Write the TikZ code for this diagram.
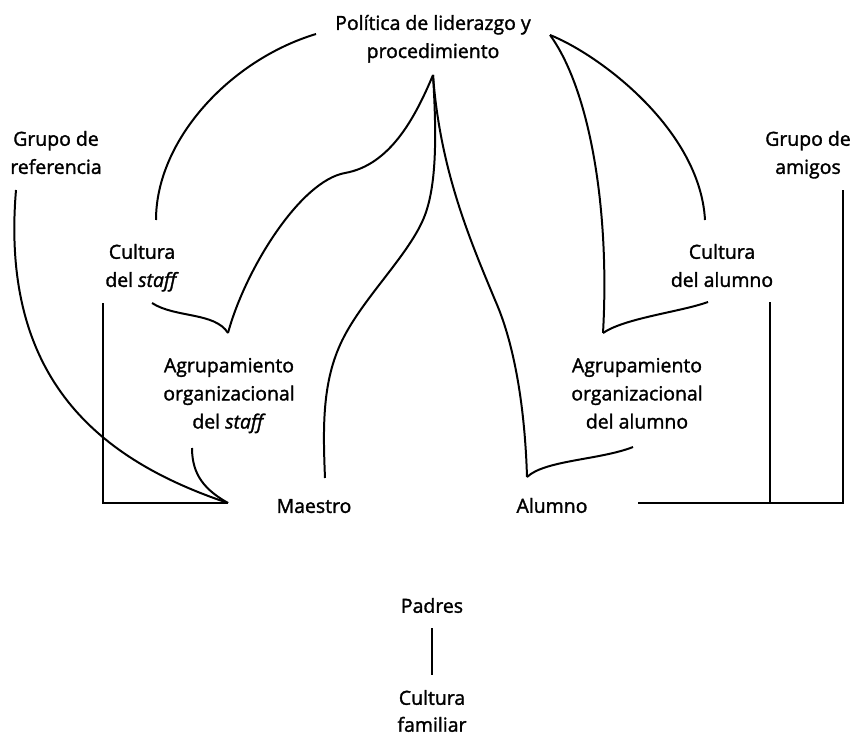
\documentclass[tikz,border=0pt]{standalone}
\usepackage{fontspec}
\setmainfont{Open Sans}[FakeBold=1.6]
\usetikzlibrary{positioning}

\begin{document}
\begin{tikzpicture}[x=0.03cm, y=-0.03cm, line width=1.7pt,
    lbl/.style={align=center, anchor=north, inner sep=0pt,
                font=\fontsize{16.6}{24}\selectfont}]

    \useasboundingbox (0,0) rectangle (852,739);

    % ================= Textos (Labels) =================
    \node[lbl] (pol)     at (433,14)  {Política de liderazgo y\\procedimiento};
    \node[lbl] (grRef)   at (56,130)  {Grupo de\\referencia};
    \node[lbl] (grAm)    at (808,130) {Grupo de\\amigos};
    \node[lbl] (cStaff)  at (142,243) {Cultura\\del \textit{staff}};
    \node[lbl] (cAlu)    at (722,243) {Cultura\\del alumno};
    \node[lbl] (agStaff) at (229,357) {Agrupamiento\\organizacional\\del \textit{staff}};
    \node[lbl] (agAlu)   at (637,357) {Agrupamiento\\organizacional\\del alumno};
    \node[lbl] (maestro) at (314,498) {Maestro};
    \node[lbl] (alumno)  at (552,497) {Alumno};
    \node[lbl] (padres)  at (432,597) {Padres};
    \node[lbl, font=\fontsize{16.6}{23}\selectfont] (familia) at (432,689) {Cultura\\familiar};

    % ================= Puntos de unión (Coordinates) =================
    \coordinate (tip)    at (433,75);
    \coordinate (polL)   at (316,34);
    \coordinate (polR)   at (550,35);
    \coordinate (cStT)   at (156,220);
    \coordinate (cStB)   at (152,303);
    \coordinate (cStV)   at (103,303);
    \coordinate (agStT)  at (228,333);
    \coordinate (agStB)  at (192,448);
    \coordinate (maeL)   at (228,503);
    \coordinate (maeT)   at (325,478);
    \coordinate (aluT)   at (527,477);
    \coordinate (aluR)   at (638,503);
    \coordinate (agAlB)  at (633,447);
    \coordinate (agAlT)  at (603,333);
    \coordinate (cAlT)   at (705,220);
    \coordinate (cAlB)   at (708,302);
    \coordinate (cAlV)   at (770,302);
    \coordinate (cAlC)   at (770,503);
    \coordinate (grAmB)  at (843,190);
    \coordinate (grAmC)  at (843,503);
    \coordinate (grRefB) at (16,190);
    \coordinate (padB)   at (432,628);
    \coordinate (famT)   at (432,675);

    % ================= Lado izquierdo (Left Side) =================
    % Política -> Cultura del staff
    \draw (polL) .. controls (230,60) and (156,140) .. (cStT);
    % Política -> Agrupamiento del staff
    \draw (tip) .. controls (415,118) and (390,165) .. (345,173)
                .. controls (300,181) and (245,270) .. (agStT);
    \draw (cStB) .. controls (175,318) and (215,312) .. (agStT);
    % Grupo de referencia -> Maestro
    \draw (grRefB) .. controls (0,380) and (100,460) .. (maeL);
    \draw (agStB) .. controls (192,475) and (205,490) .. (maeL);
    % Cultura del staff -> Maestro
    \draw (cStV) -- (cStV |- maeL) -- (maeL);

    % ================= Centro (Centre) =================
    % Política -> Maestro
    \draw (tip) .. controls (437,140) and (436,185) .. (425,215)
                .. controls (410,255) and (360,300) .. (340,345)
                .. controls (322,385) and (323,430) .. (maeT);
    % Política -> Alumno
    \draw (tip) .. controls (440,170) and (470,240) .. (495,300)
                .. controls (515,345) and (525,410) .. (aluT);
    \draw (aluT) .. controls (545,460) and (600,460) .. (agAlB);

    % ================= Lado derecho (Right Side) =================
    % Política -> Cultura del alumno
    \draw (polR) .. controls (600,55) and (700,130) .. (cAlT);
    % Política -> Agrupamiento del alumno
    \draw (polR) .. controls (590,90) and (610,210) .. (agAlT);
    \draw (agAlT) .. controls (625,318) and (680,312) .. (cAlB);
    % Alumno -> Cultura del alumno / Grupo de amigos
    \draw (aluR) -- (grAmC) -- (grAmB);
    \draw (cAlV) -- (cAlC);

    % ================= Familia (Family) =================
    \draw (padB) -- (famT);

\end{tikzpicture}
\end{document}
